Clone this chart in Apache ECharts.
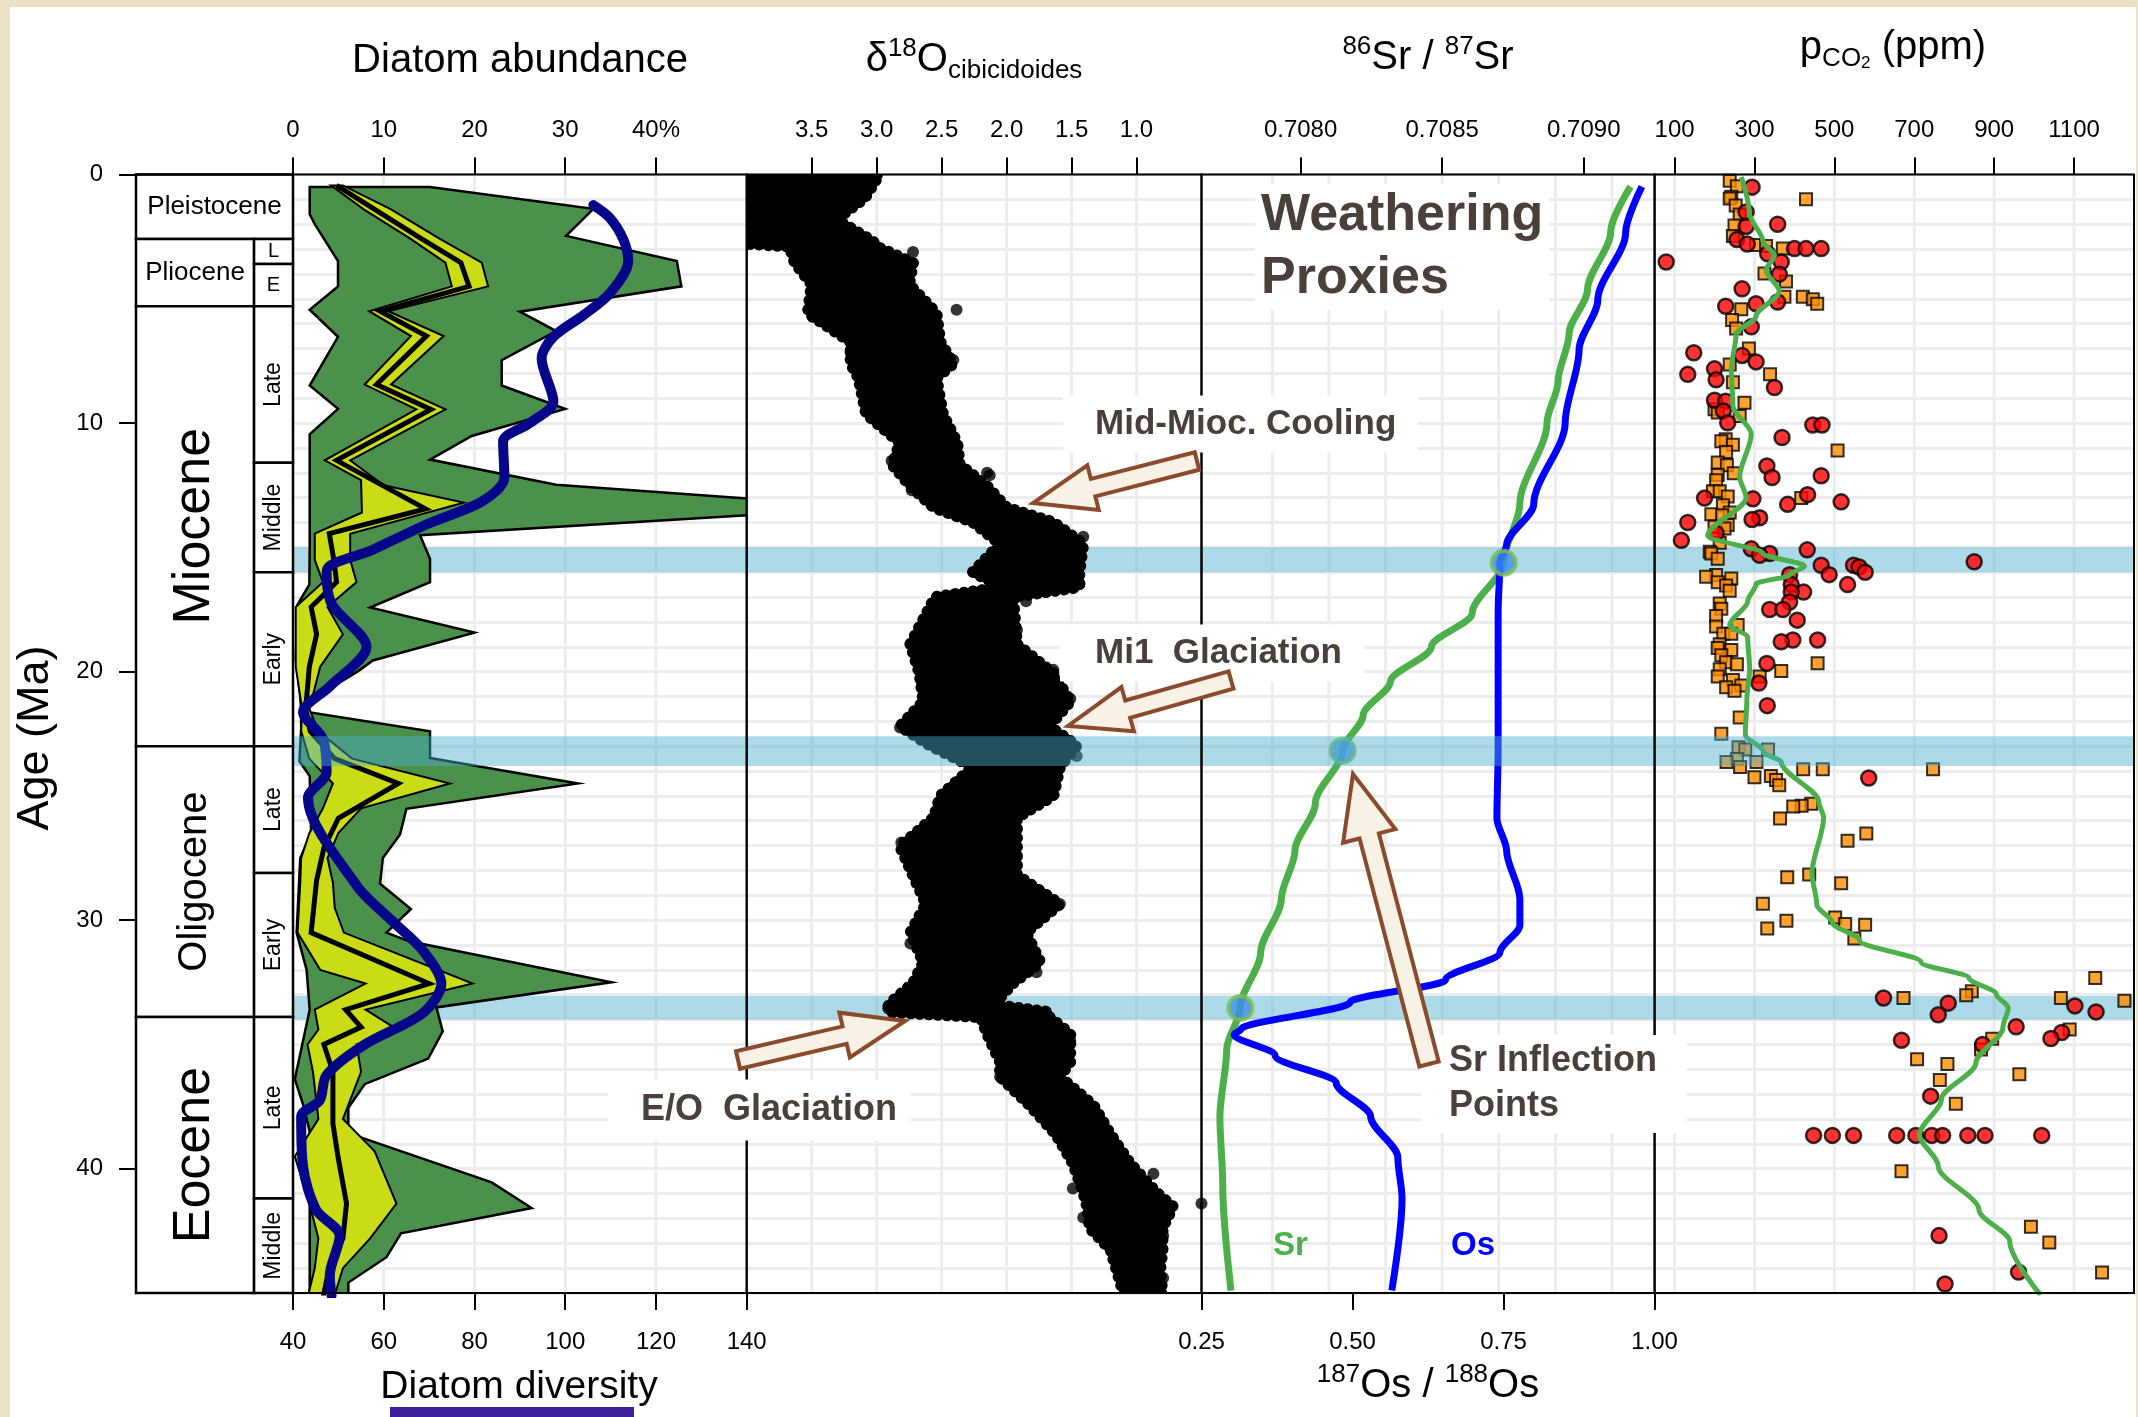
<!DOCTYPE html>
<html><head><meta charset="utf-8">
<script src="https://cdn.jsdelivr.net/npm/echarts@6/dist/echarts.min.js"></script>
<style>html,body{margin:0;padding:0;background:#ebe1c3;}#chart{width:2138px;height:1417px;}</style>
</head><body><div id="chart"></div>
<script>
// ---------------- DATA ----------------
const ageTicks = [0, 10, 20, 30, 40];
const abundTicks = [0, 10, 20, 30, 40];
const diversityTicks = [40, 60, 80, 100, 120, 140];
const d18Ticks = [3.5, 3.0, 2.5, 2.0, 1.5, 1.0];
const srTicks = [0.7080, 0.7085, 0.7090];
const osTicks = [0.25, 0.50, 0.75, 1.00];
const pco2Ticks = [100, 300, 500, 700, 900, 1100];
const abundGrid = [10, 20, 30, 40];
const d18Grid = [3.5, 3.0, 2.5, 2.0, 1.5, 1.0];
const srGrid = [0.7079, 0.7081, 0.7083, 0.7085, 0.7087, 0.7089, 0.7091];
const pco2Grid = [100, 300, 500, 700, 900, 1100];

const epochNames = ['Pleistocene', 'Pliocene', 'Miocene', 'Oligocene', 'Eocene'];
const epochStart = [0, 2.6, 5.3, 23.0, 33.9];
const epochEnd = [2.6, 5.3, 23.0, 33.9, 45];
const subNames = ['L', 'E', 'Late', 'Middle', 'Early', 'Late', 'Early', 'Late', 'Middle'];
const subStart = [2.6, 3.6, 5.3, 11.6, 16.0, 23.0, 28.1, 33.9, 41.2];
const subEnd = [3.6, 5.3, 11.6, 16.0, 23.0, 28.1, 33.9, 41.2, 45];

const bandStart = [15.0, 22.6, 33.05];
const bandEnd = [16.0, 23.8, 34.0];
const bandOnTop = [false, true, false];

// diatom abundance envelopes: [age Ma, percent]
const greenLeft = [[0.5,1.84],[1.6,1.84],[2.0,2.4],[3.48,4.96],[4.5,4.96],[5.44,1.84],[6.53,4.96],[8.49,1.84],[9.43,4.96],[10.45,1.84],[14.95,1.84],[16.5,1.8],[17.3,0.5],[19.5,0.3],[21.0,0.8],[21.6,0.9],[22.3,0.9],[23.6,0.7],[24.2,1.84],[26.5,2.0],[27.5,0.8],[30.5,0.4],[32.0,1.5],[33.6,1.84],[36.4,0.2],[37.4,1.1],[38.5,1.84],[45.2,1.84]];
const greenRight = [[0.5,15.1],[1.38,33.1],[2.47,30.1],[3.48,42.3],[4.5,42.8],[5.52,25.0],[6.3,29.0],[7.47,23.0],[8.49,23.0],[9.43,30.0],[10.52,19.7],[11.47,15.1],[12.48,29.0],[13.4,64],[14.51,14.0],[15.46,15.1],[16.4,15.1],[17.42,8.5],[18.43,20.0],[19.55,8.8],[20.0,7.1],[20.8,3.5],[21.6,1.2],[22.4,15.1],[23.47,15.1],[24.5,31.4],[25.52,12.5],[26.55,11.8],[27.5,9.9],[28.53,9.6],[29.55,13.0],[30.5,10.3],[30.85,12.8],[32.5,35.1],[33.51,15.8],[34.47,16.5],[35.57,14.9],[36.6,7.9],[37.55,6.1],[38.57,6.1],[40.55,21.9],[41.58,26.3],[42.6,11.9],[43.56,10.3],[44.58,6.1],[45.2,6.1]];
const yellowLeft = [[0.44,4.2],[1.4,7.8],[2.55,12.8],[3.55,16.8],[4.5,17.5],[5.5,8.4],[6.5,13.0],[8.45,7.9],[9.45,13.6],[11.5,3.5],[12.3,7.5],[13.6,7.6],[14.45,2.4],[15.5,2.4],[16.4,3.3],[17.4,0.3],[18.5,0.3],[19.8,0.3],[21.5,1.0],[22.4,0.9],[23.5,1.8],[24.5,4.4],[25.5,3.3],[26.5,1.8],[27.5,0.9],[28.5,0.8],[30.5,0.5],[32.0,3.0],[32.55,8.0],[33.6,2.4],[34.4,2.8],[35.0,1.6],[36.1,2.2],[38.0,2.8],[39.5,0.2],[41.4,1.8],[42.8,2.8],[44.0,2.4],[45.2,1.6]];
const yellowRight = [[0.44,5.5],[1.4,10.8],[2.55,16.0],[3.55,20.8],[4.5,21.5],[5.5,10.5],[6.5,16.6],[8.45,10.8],[9.45,16.8],[11.5,6.3],[12.5,10.0],[13.2,18.8],[14.45,6.3],[15.5,6.3],[16.4,7.0],[17.4,3.8],[18.5,5.5],[19.8,3.0],[21.5,1.8],[22.4,2.8],[23.5,6.5],[24.5,17.3],[25.5,7.5],[26.5,5.0],[27.5,3.8],[28.5,4.4],[29.5,4.6],[30.5,5.6],[32.55,19.8],[33.6,8.0],[34.4,11.5],[35.0,7.0],[36.1,7.5],[38.0,5.5],[39.3,9.0],[41.4,11.4],[42.8,8.5],[44.0,5.5],[45.2,4.5]];
const medianLine = [[0.44,4.8],[1.4,9.0],[2.55,14.0],[3.55,18.5],[4.5,19.4],[5.5,9.6],[6.5,14.7],[8.45,9.2],[9.45,15.2],[11.5,4.8],[13.45,14.6],[14.45,4.0],[15.5,4.5],[16.4,4.8],[17.4,2.0],[18.5,2.6],[19.8,1.8],[21.5,1.4],[22.4,1.9],[23.5,4.6],[24.5,11.6],[25.9,5.0],[27.1,3.4],[28.4,2.6],[30.5,2.0],[32.55,15.0],[33.6,5.8],[34.3,7.5],[35.0,3.4],[36.1,4.4],[38.2,4.4],[39.6,5.0],[41.4,5.9],[42.8,5.5],[44.0,4.0],[45.2,3.3]];

// diatom diversity (navy line)
const divAge = [1.23,1.74,2.61,3.48,4.79,5.66,6.53,7.4,9.14,10.0,10.74,12.19,13.13,14.08,15.1,15.96,17.27,19.0,20.6,21.63,22.7,24.05,25.08,28.6,30.07,31.24,32.56,33.73,35.05,36.23,37.25,37.9,39.9,41.65,42.7,44.3,45.1];
const divVal = [106.2,109.8,112.8,113.9,109.8,104.0,97.4,94.8,97.4,92.2,86.3,86.6,81.9,69.4,57.6,47.4,48.5,56.2,48.1,42.2,46.6,47.4,43.3,54.0,62.1,68.7,72.7,68.7,55.4,47.4,45.9,41.8,42.2,45.1,50.3,48.1,48.5];

// delta18O envelope (high = heavier values on left, low = lighter on right)
const d18Age = [0.0,0.94,1.81,2.68,2.9,3.55,4.42,5.58,6.74,7.61,8.19,9.64,10.8,11.67,12.54,13.4,13.99,14.86,16.0,16.6,17.0,18.9,20.07,21.2,22.2,22.97,23.84,25.0,25.87,27.03,28.19,29.35,30.5,31.7,32.54,33.4,33.7,33.9,34.57,35.7,36.3,37.46,38.62,39.78,40.94,41.52,42.39,43.26,44.13,45.0];
const d18High = [4.3,4.3,4.3,4.3,3.67,3.63,3.5,3.53,3.2,3.2,3.14,3.08,2.82,2.88,2.74,2.56,2.26,2.05,2.26,2.03,2.55,2.74,2.67,2.64,2.82,2.59,2.26,2.51,2.56,2.82,2.72,2.62,2.74,2.64,2.72,2.91,2.9,2.2,2.15,2.05,2.05,1.82,1.62,1.49,1.41,1.38,1.36,1.2,1.15,1.1];
const d18Low = [2.98,3.09,3.31,3.03,3.0,2.72,2.75,2.54,2.51,2.41,2.54,2.49,2.38,2.36,2.15,2.0,1.64,1.41,1.44,1.44,1.95,1.92,1.64,1.51,1.67,1.46,1.59,1.64,1.92,1.92,1.92,1.59,1.85,1.74,1.95,2.1,1.67,1.67,1.51,1.51,1.59,1.33,1.2,1.05,0.85,0.72,0.8,0.8,0.82,0.8];
const d18Outliers = [[3.12,2.72],[5.44,2.385],[5.73,3.49],[7.17,3.2],[7.38,2.44],[7.46,2.41],[8.19,3.1],[9.55,3.08],[11.52,2.885],[12.0,2.15],[12.1,2.13],[12.7,2.73],[14.57,1.41],[16.45,1.44],[17.17,1.85],[18.04,2.59],[18.33,1.92],[18.9,2.74],[19.93,1.64],[20.5,2.65],[21.09,1.51],[22.25,2.82],[23.4,1.46],[26.88,2.81],[27.6,2.73],[29.35,1.59],[30.94,2.74],[31.95,1.82],[32.1,1.77],[33.55,2.91],[34.86,1.51],[36.3,2.05],[38.33,1.33],[40.2,0.87],[40.8,1.49],[41.4,0.5],[41.96,1.41],[42.7,0.795],[44.4,0.795]];

// 87Sr/86Sr and 187Os/188Os
const srAge = [0.49,2.3,4.64,6.4,8.33,10.0,13.26,15.6,17.65,19.0,20.4,21.75,23.18,25.3,27.2,29.15,31.3,33.5,35.2,37.9,40.65,44.9];
const srVal = [0.709165,0.709095,0.709013,0.708948,0.708909,0.708870,0.708774,0.708717,0.708606,0.708462,0.708317,0.708221,0.708148,0.708052,0.707980,0.707932,0.707859,0.707787,0.707739,0.707715,0.707725,0.707754];
const osAge = [0.49,2.35,5.04,7.05,10.0,13.26,14.9,15.6,17.6,23.1,25.9,27.2,29.15,30.2,31.3,32.4,33.3,34.4,34.6,35.45,36.55,37.9,39.55,41.2,44.9];
const osVal = [0.979,0.952,0.906,0.875,0.852,0.800,0.755,0.744,0.741,0.741,0.739,0.755,0.777,0.777,0.744,0.654,0.496,0.315,0.304,0.372,0.473,0.530,0.575,0.582,0.565];
const srInflAge = [15.62, 23.18, 33.53];
const srInflVal = [0.708717, 0.708148, 0.707787];

// pCO2
const pco2CurveAge = [0.1,1.54,2.69,3.26,3.84,4.7,5.7,6.42,7.86,9.3,10.44,12.16,13.0,14.53,15.25,15.75,16.11,16.47,17.18,18.12,18.62,19.91,21.09,22.53,23.25,23.64,25.24,25.88,28.11,29.38,30.1,30.82,31.69,32.33,32.97,33.53,34.32,35.76,37.2,38.63,39.9,41.66,42.93,45.08];
const pco2CurveVal = [267,287,321,350,329,362,304,254,242,246,292,263,279,183,321,425,388,304,283,238,283,288,281,277,324,367,461,473,444,456,495,563,717,837,905,935,922,854,768,713,760,862,939,1016];
const pco2Circles = [[0.51,294],[1.51,279],[2.0,358],[2.09,279],[2.62,256],[2.8,282],[2.98,400],[2.98,429],[2.98,467],[3.19,333],[3.52,79],[3.52,367],[4.01,362],[4.6,269],[5.13,358],[5.2,304],[5.3,228],[6.13,292],[7.17,148],[7.28,269],[7.54,304],[7.82,200],[8.04,133],[8.26,204],[8.57,350],[9.08,200],[9.12,228],[9.51,222],[9.99,233],[10.08,446],[10.08,469],[10.58,369],[11.73,331],[12.12,467],[12.19,344],[12.88,433],[13.02,175],[13.05,296],[13.17,517],[13.27,383],[13.81,313],[13.88,294],[14.0,133],[14.43,204],[14.72,117],[15.06,292],[15.1,432],[15.25,338],[15.32,313],[15.58,850],[15.72,467],[15.72,548],[15.79,562],[16.0,577],[16.1,487],[16.1,388],[16.5,533],[16.5,392],[16.8,423],[16.8,392],[17.2,388],[17.5,338],[17.5,371],[17.93,407],[18.73,396],[18.73,458],[18.8,367],[19.67,331],[20.46,311],[21.37,332],[24.28,586],[33.13,623],[33.34,785],[33.45,1102],[33.69,1155],[33.81,760],[34.29,955],[34.52,1069],[34.76,1042],[34.83,668],[35.0,871],[37.08,741],[38.66,448],[38.66,495],[38.66,548],[38.66,656],[38.66,704],[38.66,744],[38.66,771],[38.66,834],[38.66,877],[38.66,1019],[42.69,762],[44.16,961],[44.64,777]];
const pco2Squares = [[0.25,238],[0.47,256],[0.9,242],[0.97,238],[1.0,429],[1.25,253],[1.61,263],[2.05,250],[2.47,246],[2.84,304],[2.88,329],[2.98,371],[3.98,325],[4.3,379],[4.92,375],[4.92,421],[5.02,446],[5.2,457],[5.42,267],[5.85,244],[6.2,254],[7.0,286],[7.64,238],[8.04,339],[8.36,246],[9.18,275],[9.44,200],[9.58,208],[9.72,263],[10.65,228],[10.73,217],[10.87,246],[11.1,508],[11.16,229],[11.59,208],[11.7,231],[12.02,248],[12.09,208],[12.3,204],[12.74,196],[12.74,213],[12.95,233],[13.02,417],[13.31,221],[13.6,238],[13.67,192],[13.71,219],[14.1,233],[14.17,200],[14.24,225],[14.82,213],[15.18,188],[15.25,192],[15.46,208],[16.11,204],[16.18,179],[16.25,242],[16.4,208],[16.54,229],[16.75,238],[17.26,213],[17.47,217],[17.76,204],[18.12,258],[18.19,204],[18.48,222],[18.48,242],[18.9,213],[19.05,208],[19.13,242],[19.34,217],[19.62,229],[19.66,458],[19.7,256],[19.91,213],[19.98,367],[20.2,208],[20.2,313],[20.34,246],[20.56,267],[20.63,229],[20.77,250],[21.85,263],[22.5,217],[23.04,260],[23.13,277],[23.13,334],[23.52,256],[23.64,230],[23.64,305],[23.84,264],[23.93,422],[23.93,471],[23.93,747],[24.2,341],[24.25,300],[24.36,354],[24.57,362],[25.32,442],[25.4,418],[25.43,397],[25.91,364],[26.51,580],[26.8,533],[28.16,437],[28.27,382],[28.51,517],[29.34,321],[29.89,502],[30.02,380],[30.15,527],[30.18,577],[30.34,332],[30.74,550],[32.33,1153],[32.86,844],[33.02,830],[33.13,673],[33.13,1067],[33.24,1226],[34.4,1089],[34.77,895],[35.2,867],[35.6,707],[35.79,783],[36.2,963],[36.43,764],[37.39,804],[40.1,668],[42.33,992],[42.97,1038],[44.18,1170]];

// ---------------- STYLE / LAYOUT ----------------
const F = "'Liberation Sans', Arial, Helvetica, sans-serif";
const GRIDC = '#ececec';
const BANDC = 'rgba(74,174,204,0.46)';
const AGE_MIN = 0, AGE_MAX = 45;
const TOP = 174.5, H = 1118.5;
const EPOCH_FRAC = 0.752;
const EPOCH_FONT = {Pleistocene: 26, Pliocene: 26, Miocene: 52, Oligocene: 40, Eocene: 52};
const ANN = '#4b4039';

const chart = echarts.init(document.getElementById('chart'), null, {width: 2138, height: 1417});

function tickAxis(gi, pos, min, max, ticks, fmt, inverse) {
  return {gridIndex: gi, type: 'value', position: pos, min, max, inverse: !!inverse,
    axisLine: {show: false}, splitLine: {show: false},
    axisTick: {show: true, inside: false, length: 17, lineStyle: {color: '#000', width: 2}, customValues: ticks},
    axisLabel: {show: true, customValues: ticks, formatter: fmt, margin: pos === 'top' ? 32 : 37,
      fontSize: 24, color: '#000', fontFamily: F}};
}
function ageAxis(gi) {
  return {gridIndex: gi, type: 'value', inverse: true, min: AGE_MIN, max: AGE_MAX, interval: 1,
    axisLine: {show: false}, axisTick: {show: false}, axisLabel: {show: false},
    splitLine: {show: true, lineStyle: {color: GRIDC, width: 3}}};
}
function polySeries(xi, yi, leftPts, rightPts, style, z) {
  return {type: 'custom', coordinateSystem: 'cartesian2d', xAxisIndex: xi, yAxisIndex: yi, z, clip: true, silent: true,
    data: [[leftPts[0][1], leftPts[0][0]]],
    renderItem: function (params, api) {
      const pts = [];
      for (const p of leftPts) pts.push(api.coord([p[1], p[0]]));
      for (let k = rightPts.length - 1; k >= 0; k--) pts.push(api.coord([rightPts[k][1], rightPts[k][0]]));
      return {type: 'polygon', shape: {points: pts}, style: style};
    }};
}
function bandSeries(xi, yi, xval, over) {
  return {type: 'custom', xAxisIndex: xi, yAxisIndex: yi, z: over ? 50 : 2, silent: true,
    data: bandStart.map(s => [xval, s]),
    renderItem: function (params, api) {
      const i = params.dataIndex;
      if (bandOnTop[i] !== over) return {type: 'group', children: []};
      const cs = params.coordSys;
      const y0 = api.coord([xval, bandStart[i]])[1], y1 = api.coord([xval, bandEnd[i]])[1];
      return {type: 'rect', shape: {x: cs.x, y: Math.min(y0, y1), width: cs.width, height: Math.abs(y1 - y0)}, style: {fill: BANDC}};
    }};
}
function vGridSeries(xi, yi, values) {
  return {type: 'custom', xAxisIndex: xi, yAxisIndex: yi, z: 1, silent: true,
    data: values.map(v => [v, AGE_MIN]),
    renderItem: function (params, api) {
      const v = values[params.dataIndex];
      const p0 = api.coord([v, AGE_MIN]), p1 = api.coord([v, AGE_MAX]);
      return {type: 'line', shape: {x1: p0[0], y1: p0[1], x2: p1[0], y2: p1[1]}, style: {stroke: GRIDC, lineWidth: 3}};
    }};
}
function frameSeries(xi, yi, xval) {
  return {type: 'custom', xAxisIndex: xi, yAxisIndex: yi, z: 60, silent: true, data: [[xval, AGE_MIN]],
    renderItem: function (params) {
      const cs = params.coordSys;
      return {type: 'rect', shape: {x: cs.x, y: cs.y, width: cs.width, height: cs.height}, style: {fill: 'none', stroke: '#000', lineWidth: 2}};
    }};
}
function txt(text, size, extra) {
  return Object.assign({text, fontSize: size, fontFamily: F, fill: '#000', align: 'center', verticalAlign: 'middle',
    textAlign: 'center', textVerticalAlign: 'middle'}, extra || {});
}
function arrowPts(tail, tip, sw, hw, hl) {
  const dx = tip[0] - tail[0], dy = tip[1] - tail[1], L = Math.hypot(dx, dy);
  const ux = dx / L, uy = dy / L, nx = -uy, ny = ux;
  const bx = tip[0] - ux * hl, by = tip[1] - uy * hl;
  return [[tail[0] + nx * sw / 2, tail[1] + ny * sw / 2], [bx + nx * sw / 2, by + ny * sw / 2], [bx + nx * hw / 2, by + ny * hw / 2], tip,
    [bx - nx * hw / 2, by - ny * hw / 2], [bx - nx * sw / 2, by - ny * sw / 2], [tail[0] - nx * sw / 2, tail[1] - ny * sw / 2]];
}
function arrow(tail, tip, sw, hw, hl) {
  return {type: 'polygon', z: 120, silent: true, shape: {points: arrowPts(tail, tip, sw, hw, hl)},
    style: {fill: '#f8f1e5', stroke: '#8b4a2b', lineWidth: 4, lineJoin: 'miter'}};
}
const richBase = {
  n: {fontSize: 40, fontFamily: F, lineHeight: 48, verticalAlign: 'middle', fill: '#000', color: '#000'},
  sup: {fontSize: 26, fontFamily: F, lineHeight: 26, verticalAlign: 'top', fill: '#000', color: '#000'},
  sub: {fontSize: 26, fontFamily: F, lineHeight: 26, verticalAlign: 'bottom', fill: '#000', color: '#000'},
  sub2: {fontSize: 17, fontFamily: F, lineHeight: 17, verticalAlign: 'bottom', fill: '#000', color: '#000'}
};
function richTitle(x, y, text) {
  return {type: 'text', x, y, z: 100, silent: true,
    style: {text, rich: richBase, align: 'center', verticalAlign: 'middle', textAlign: 'center', textVerticalAlign: 'middle', fill: '#000'}};
}
function annot(text, x, y, size, pad) {
  return {type: 'text', x, y, z: 100, silent: true,
    style: {text, font: 'bold ' + size + 'px ' + F, fill: ANN, backgroundColor: '#fff', padding: pad,
      align: 'left', verticalAlign: 'middle', textAlign: 'left', textVerticalAlign: 'middle', lineHeight: 45}};
}
const d18LeftPts = d18Age.map((a, i) => [a, d18High[i]]);
const d18RightPts = d18Age.map((a, i) => [a, d18Low[i]]);

const option = {
  animation: false,
  backgroundColor: '#ebe1c3',
  grid: [
    {left: 136, top: TOP, width: 157, height: H, outerBoundsMode: 'none'},
    {left: 293, top: TOP, width: 453.7, height: H, outerBoundsMode: 'none'},
    {left: 746.7, top: TOP, width: 454.8, height: H, outerBoundsMode: 'none'},
    {left: 1201.5, top: TOP, width: 453.1, height: H, outerBoundsMode: 'none'},
    {left: 1654.6, top: TOP, width: 479.4, height: H, outerBoundsMode: 'none'}
  ],
  xAxis: [
    {gridIndex: 0, type: 'value', min: 0, max: 1, show: false},
    tickAxis(1, 'top', 0, 50, abundTicks, v => (v === 40 ? '40%' : String(v))),
    tickAxis(1, 'bottom', 40, 140, diversityTicks, v => String(v)),
    tickAxis(2, 'top', 0.5, 4.0, d18Ticks, v => v.toFixed(1), true),
    tickAxis(3, 'top', 0.70765, 0.70925, srTicks, v => v.toFixed(4)),
    tickAxis(3, 'bottom', 0.25, 1.0, osTicks, v => v.toFixed(2)),
    tickAxis(4, 'top', 50, 1250, pco2Ticks, v => String(v))
  ],
  yAxis: [
    {gridIndex: 0, type: 'value', inverse: true, min: AGE_MIN, max: AGE_MAX, position: 'left',
      axisLine: {show: false}, splitLine: {show: false},
      axisTick: {show: true, length: 17, lineStyle: {color: '#000', width: 2}, customValues: ageTicks},
      axisLabel: {customValues: ageTicks, margin: 33, fontSize: 24, color: '#000', fontFamily: F}},
    ageAxis(1), ageAxis(2), ageAxis(3), ageAxis(4)
  ],
  series: [
    vGridSeries(1, 1, abundGrid), vGridSeries(3, 2, d18Grid), vGridSeries(4, 3, srGrid), vGridSeries(6, 4, pco2Grid),
    bandSeries(1, 1, 0, false), bandSeries(3, 2, 0.5, false), bandSeries(4, 3, 0.70765, false), bandSeries(6, 4, 50, false),
    {type: 'custom', xAxisIndex: 0, yAxisIndex: 0, z: 3, silent: true,
      data: epochStart.map(s => [0.5, s]),
      renderItem: function (params, api) {
        const i = params.dataIndex, cs = params.coordSys;
        const y0 = api.coord([0.5, epochStart[i]])[1], y1 = api.coord([0.5, epochEnd[i]])[1];
        const hasSub = subStart.some(s => s >= epochStart[i] && s < epochEnd[i]);
        const w = hasSub ? cs.width * EPOCH_FRAC : cs.width;
        const rot = (epochEnd[i] - epochStart[i]) > 4;
        return {type: 'group', children: [
          {type: 'rect', shape: {x: cs.x, y: y0, width: w, height: y1 - y0}, style: {fill: '#fff', stroke: '#000', lineWidth: 2.5}},
          {type: 'text', x: cs.x + w / 2, y: (y0 + y1) / 2, rotation: rot ? Math.PI / 2 : 0,
            style: txt(epochNames[i], EPOCH_FONT[epochNames[i]])}
        ]};
      }},
    {type: 'custom', xAxisIndex: 0, yAxisIndex: 0, z: 3, silent: true,
      data: subStart.map(s => [0.5, s]),
      renderItem: function (params, api) {
        const i = params.dataIndex, cs = params.coordSys;
        const y0 = api.coord([0.5, subStart[i]])[1], y1 = api.coord([0.5, subEnd[i]])[1];
        const x0 = cs.x + cs.width * EPOCH_FRAC, w = cs.width * (1 - EPOCH_FRAC);
        const rot = (subEnd[i] - subStart[i]) > 2;
        return {type: 'group', children: [
          {type: 'rect', shape: {x: x0, y: y0, width: w, height: y1 - y0}, style: {fill: '#fff', stroke: '#000', lineWidth: 2.5}},
          {type: 'text', x: x0 + w / 2, y: (y0 + y1) / 2, rotation: rot ? Math.PI / 2 : 0,
            style: txt(subNames[i], rot ? 23 : 20)}
        ]};
      }},
    polySeries(1, 1, greenLeft, greenRight, {fill: '#4b914b', stroke: '#000', lineWidth: 2.5, lineJoin: 'miter'}, 3),
    polySeries(1, 1, yellowLeft, yellowRight, {fill: '#c9dc16', stroke: '#000', lineWidth: 2, lineJoin: 'miter'}, 4),
    {type: 'line', xAxisIndex: 1, yAxisIndex: 1, z: 5, silent: true, showSymbol: false, symbol: 'none',
      data: medianLine.map(p => [p[1], p[0]]), lineStyle: {color: '#000', width: 5, join: 'miter'}},
    {type: 'line', xAxisIndex: 2, yAxisIndex: 1, z: 6, silent: true, showSymbol: false, symbol: 'none', smooth: 0.3,
      data: divAge.map((a, i) => [divVal[i], a]), lineStyle: {color: '#06068a', width: 10, cap: 'round', join: 'round'}},
    // delta18O: filled envelope + beaded (dotted) outline to mimic point cloud
    polySeries(3, 2, d18LeftPts, d18RightPts, {fill: '#000', stroke: 'none'}, 3),
    polySeries(3, 2, d18LeftPts, d18RightPts, {fill: 'none', stroke: '#000', lineWidth: 12, lineDash: [0.1, 9], lineCap: 'round'}, 3),
    {type: 'scatter', xAxisIndex: 3, yAxisIndex: 2, z: 4, silent: true, symbolSize: 12,
      data: d18Outliers.map(p => [p[1], p[0]]), itemStyle: {color: '#000'}},
    {type: 'line', xAxisIndex: 4, yAxisIndex: 3, z: 5, silent: true, showSymbol: false, symbol: 'none', smooth: 0.3, smoothMonotone: 'y',
      data: srAge.map((a, i) => [srVal[i], a]), lineStyle: {color: '#4daf4a', width: 7}},
    {type: 'line', xAxisIndex: 5, yAxisIndex: 3, z: 5, silent: true, showSymbol: false, symbol: 'none', smooth: 0.3, smoothMonotone: 'y',
      data: osAge.map((a, i) => [osVal[i], a]), lineStyle: {color: '#0000ff', width: 7}},
    {type: 'scatter', xAxisIndex: 4, yAxisIndex: 3, z: 8, silent: true, symbolSize: 24,
      data: srInflAge.map((a, i) => [srInflVal[i], a]), itemStyle: {color: '#3f8ff0', borderColor: '#7dbd4f', borderWidth: 4}},
    {type: 'scatter', xAxisIndex: 6, yAxisIndex: 4, z: 5, silent: true, symbol: 'rect', symbolSize: 12,
      data: pco2Squares.map(p => [p[1], p[0]]), itemStyle: {color: '#ff8c00', borderColor: '#000', borderWidth: 2}},
    {type: 'scatter', xAxisIndex: 6, yAxisIndex: 4, z: 6, silent: true, symbol: 'circle', symbolSize: 15,
      data: pco2Circles.map(p => [p[1], p[0]]), itemStyle: {color: '#ff0000', borderColor: '#000', borderWidth: 2.5}},
    {type: 'line', xAxisIndex: 6, yAxisIndex: 4, z: 7, silent: true, showSymbol: false, symbol: 'none', smooth: 0.3, smoothMonotone: 'y',
      data: pco2CurveAge.map((a, i) => [pco2CurveVal[i], a]), lineStyle: {color: '#4daf4a', width: 5}},
    bandSeries(1, 1, 0, true), bandSeries(3, 2, 0.5, true), bandSeries(4, 3, 0.70765, true), bandSeries(6, 4, 50, true),
    frameSeries(0, 0, 0.5), frameSeries(1, 1, 0), frameSeries(3, 2, 0.5), frameSeries(4, 3, 0.70765), frameSeries(6, 4, 50)
  ],
  graphic: [
    {type: 'rect', z: -100, silent: true, shape: {x: 10, y: 7, width: 2126, height: 1410}, style: {fill: '#ffffff'}},
    {type: 'text', x: 520, y: 61, z: 100, silent: true, style: txt('Diatom abundance', 40)},
    richTitle(974, 60, '{n|δ}{sup|18}{n|O}{sub|cibicidoides}'),
    richTitle(1428, 58, '{sup|86}{n|Sr / }{sup|87}{n|Sr}'),
    richTitle(1893, 48, '{n|p}{sub|CO}{sub2|2}{n| (ppm)}'),
    {type: 'text', x: 36, y: 738, rotation: Math.PI / 2, z: 100, silent: true, style: txt('Age (Ma)', 45)},
    {type: 'text', x: 519, y: 1387, z: 100, silent: true, style: txt('Diatom diversity', 39)},
    richTitle(1428, 1386, '{sup|187}{n|Os / }{sup|188}{n|Os}'),
    {type: 'rect', z: 100, silent: true, shape: {x: 390, y: 1407, width: 244, height: 10}, style: {fill: '#3b1f9b'}},
    {type: 'text', x: 1255, y: 247, z: 100, silent: true,
      style: {text: 'Weathering\nProxies', font: 'bold 52px ' + F, fill: ANN, lineHeight: 63, backgroundColor: '#fff', padding: [0, 6],
        align: 'left', verticalAlign: 'middle', textAlign: 'left', textVerticalAlign: 'middle'}},
    annot('Mid-Mioc. Cooling', 1063, 424, 35, [6, 22, 6, 32]),
    annot('Mi1  Glaciation', 1060, 653, 35, [6, 22, 6, 35]),
    annot('E/O  Glaciation', 608, 1110, 36, [8, 14, 8, 33]),
    annot('Sr Inflection\nPoints', 1421, 1084, 36, [4, 30, 4, 28]),
    arrow([1197, 461], [1033, 503], 18, 46, 62),
    arrow([1231, 680], [1068, 726], 18, 46, 62),
    arrow([738, 1060], [905, 1021], 18, 46, 62),
    arrow([1429, 1064], [1353, 774], 20, 54, 64),
    {type: 'text', x: 1273, y: 1246, z: 100, silent: true,
      style: {text: 'Sr', font: 'bold 33px ' + F, fill: '#4daf4a', align: 'left', verticalAlign: 'middle', textAlign: 'left', textVerticalAlign: 'middle'}},
    {type: 'text', x: 1451, y: 1246, z: 100, silent: true,
      style: {text: 'Os', font: 'bold 33px ' + F, fill: '#0000ff', align: 'left', verticalAlign: 'middle', textAlign: 'left', textVerticalAlign: 'middle'}}
  ]
};
chart.setOption(option);
</script></body></html>
